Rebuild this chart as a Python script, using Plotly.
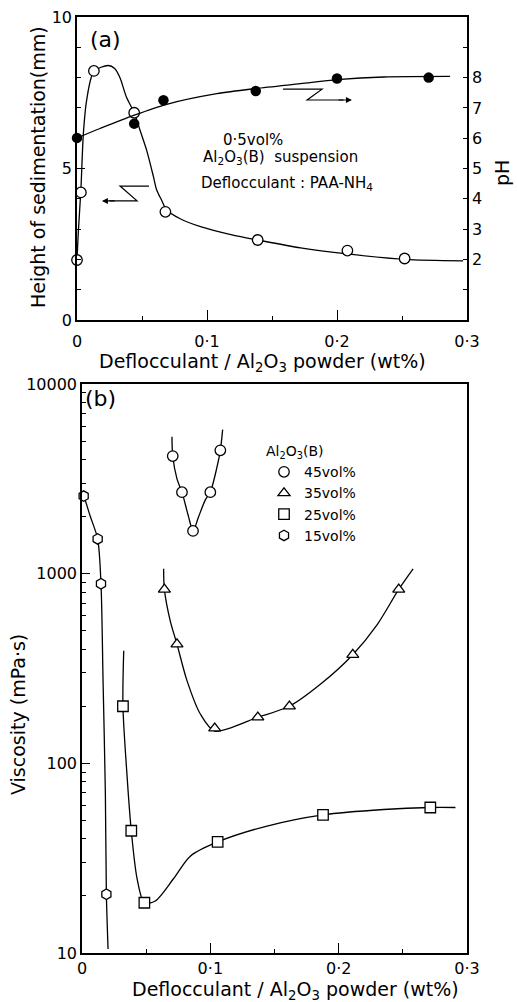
import plotly.graph_objects as go

# ---------------- data ----------------
# panel (a): sedimentation height (open circles) and pH (filled circles)
sed_x = [0.0, 0.003, 0.013, 0.044, 0.068, 0.139, 0.208, 0.252]
sed_y = [1.98, 4.21, 8.22, 6.84, 3.57, 2.64, 2.29, 2.03]
ph_x = [0.0, 0.044, 0.0665, 0.1375, 0.200, 0.2705]
ph_y = [6.01, 6.48, 7.25, 7.56, 7.97, 8.00]

# hand-drawn guide curves of panel (a)
sed_curve_x = [0.0, 0.001, 0.003, 0.0049, 0.0074, 0.013, 0.024, 0.029, 0.033, 0.038,
               0.044, 0.0485, 0.0536, 0.0588, 0.0613, 0.065, 0.069, 0.079, 0.095,
               0.120, 0.139, 0.172, 0.208, 0.252, 0.297]
sed_curve_y = [2.0, 2.9, 4.3, 6.15, 7.25, 8.2, 8.4, 8.3, 8.0, 7.36,
               6.84, 6.26, 5.6, 4.73, 4.29, 3.96, 3.63, 3.35, 3.08,
               2.8, 2.64, 2.38, 2.18, 2.0, 1.95]
ph_curve_x = [0.0, 0.0177, 0.044, 0.069, 0.1075, 0.1375, 0.172, 0.200, 0.236, 0.287]
ph_curve_y = [6.01, 6.32, 6.76, 7.12, 7.47, 7.64, 7.80, 7.93, 8.02, 8.04]

# panel (b): viscosity vs deflocculant
v45_x = [0.0707, 0.0779, 0.0865, 0.1000, 0.1078]
v45_y = [4170, 2690, 1680, 2690, 4470]
v35_x = [0.0642, 0.0740, 0.1034, 0.1370, 0.1616, 0.2110, 0.2468]
v35_y = [826, 425, 153, 175, 200, 374, 826]
v25_x = [0.0319, 0.0384, 0.0486, 0.1057, 0.1878, 0.2714]
v25_y = [200, 44.1, 18.4, 38.5, 53.5, 58.5]
v15_x = [0.0013, 0.0122, 0.0148, 0.0190]
v15_y = [2565, 1525, 885, 20.4]

# hand-drawn guide curves of panel (b)
c45_x = [0.0701, 0.0707, 0.0740, 0.0779, 0.0830, 0.0865, 0.0909, 0.0961, 0.1000, 0.1050, 0.1078, 0.1096]
c45_y = [5270, 4170, 3160, 2690, 2000, 1680, 2000, 2450, 2690, 3600, 4470, 5750]
c35_x = [0.0636, 0.0642, 0.0688, 0.0740, 0.0818, 0.0922, 0.1034, 0.1370, 0.1616, 0.1857, 0.2110, 0.2299, 0.2468, 0.2580]
c35_y = [1060, 826, 562, 425, 273, 182, 148, 175, 200, 261, 374, 537, 826, 1060]
c25_x = [0.0325, 0.0319, 0.0350, 0.0384, 0.0429, 0.0486, 0.0571, 0.0714, 0.0844, 0.1057, 0.1442, 0.1878, 0.2350, 0.2714, 0.2910]
c25_y = [392, 200, 88, 44.1, 24.7, 18.4, 18.8, 24.7, 32.4, 38.5, 46.7, 53.5, 57.1, 58.5, 58.5]
c15_x = [0.0, 0.0013, 0.0065, 0.0122, 0.0148, 0.0164, 0.0182, 0.0190, 0.0203]
c15_y = [2650, 2565, 2000, 1525, 885, 273, 70, 20.4, 10.5]

x_ticks = [0, 0.1, 0.2, 0.3]
x_ticktext = ["0", "0·1", "0·2", "0·3"]
v_ticks = [10, 100, 1000, 10000]
v_ticktext = ["10", "100", "1000", "10000"]
v_minor = [m * d for d in (10, 100, 1000) for m in range(2, 10)]
ph_ticks = [1, 2, 3, 4, 5, 6, 7, 8, 9]
ph_ticktext = ["", "2", "3", "4", "5", "6", "7", "8", ""]

FONT = "DejaVu Sans"
W, H = 517, 1002

def px_x(p):
    return p / W

def px_y(p):
    return 1 - p / H

fig = go.Figure()

line = dict(color="black", width=1.3)
open_marker = lambda sym: dict(symbol=sym, size=10.5, color="white", line=dict(color="black", width=1.3))

# panel (a)
fig.add_trace(go.Scatter(x=sed_curve_x, y=sed_curve_y, mode="lines", line=dict(shape="spline", smoothing=0.8, **line),
                         xaxis="x", yaxis="y", showlegend=False, hoverinfo="skip"))
fig.add_trace(go.Scatter(x=ph_curve_x, y=ph_curve_y, mode="lines", line=dict(shape="spline", smoothing=0.8, **line),
                         xaxis="x", yaxis="y2", showlegend=False, hoverinfo="skip"))
fig.add_trace(go.Scatter(x=sed_x, y=sed_y, mode="markers", marker=open_marker("circle"),
                         xaxis="x", yaxis="y", showlegend=False, cliponaxis=False))
fig.add_trace(go.Scatter(x=ph_x, y=ph_y, mode="markers",
                         marker=dict(symbol="circle", size=10.5, color="black"),
                         xaxis="x", yaxis="y2", showlegend=False, cliponaxis=False))

# panel (b)
for cx, cy in [(c45_x, c45_y), (c35_x, c35_y), (c25_x, c25_y), (c15_x, c15_y)]:
    fig.add_trace(go.Scatter(x=cx, y=cy, mode="lines", line=dict(shape="spline", smoothing=0.8, **line),
                             xaxis="x2", yaxis="y3", showlegend=False, hoverinfo="skip"))
for vx, vy, sym, name in [(v45_x, v45_y, "circle", "45vol%"),
                          (v35_x, v35_y, "triangle-up", "35vol%"),
                          (v25_x, v25_y, "square", "25vol%"),
                          (v15_x, v15_y, "hexagon", "15vol%")]:
    fig.add_trace(go.Scatter(x=vx, y=vy, mode="markers", marker=open_marker(sym), name=name,
                             xaxis="x2", yaxis="y3", cliponaxis=False))

axis_common = dict(showline=True, linecolor="black", linewidth=1.5, showgrid=False, zeroline=False,
                   ticks="inside", tickcolor="black", tickwidth=1.3, automargin=False,
                   tickfont=dict(family=FONT, size=16, color="black"))
minor_common = dict(ticks="inside", tickcolor="black", tickwidth=1.3, ticklen=4)

fig.update_layout(
    width=W, height=H, margin=dict(l=0, r=0, t=0, b=0, autoexpand=False),
    paper_bgcolor="white", plot_bgcolor="white",
    font=dict(family=FONT, color="black"),
    xaxis=dict(domain=[px_x(77), px_x(467)], range=[0, 0.3], anchor="y",
               tickvals=x_ticks, ticktext=x_ticktext, ticklen=10, mirror=True,
               ticklabelstandoff=6,
               minor=dict(dtick=0.05, **minor_common), **axis_common),
    yaxis=dict(domain=[px_y(320), px_y(17)], range=[0, 10], anchor="x",
               tickvals=[0, 5, 10], ticklen=8, mirror=True,
               minor=dict(dtick=1, **minor_common), **axis_common),
    yaxis2=dict(overlaying="y", side="right", anchor="x", range=[0, 10],
                tickvals=ph_ticks, ticktext=ph_ticktext, ticklen=4, **axis_common),
    xaxis2=dict(domain=[px_x(82), px_x(467)], range=[0, 0.3], anchor="y3",
                tickvals=x_ticks, ticktext=x_ticktext, ticklen=10, mirror=True,
                minor=dict(dtick=0.05, **minor_common), **axis_common),
    yaxis3=dict(domain=[px_y(953), px_y(384)], type="log", range=[1, 4], anchor="x2",
                tickvals=v_ticks, ticktext=v_ticktext, ticklen=8, mirror=True,
                minor=dict(tickvals=v_minor, **minor_common), **axis_common),
    legend=dict(x=px_x(264), y=px_y(438), xanchor="left", yanchor="top",
                title=dict(text="Al<sub>2</sub>O<sub>3</sub>(B)", font=dict(family=FONT, size=14, color="black")),
                font=dict(family=FONT, size=14, color="black"), bgcolor="rgba(0,0,0,0)",
                itemwidth=30, tracegroupgap=0),
)

def ann(text, x, y, size=19, angle=0, xanchor="center"):
    fig.add_annotation(text=text, x=px_x(x), y=px_y(y), xref="paper", yref="paper",
                       showarrow=False, textangle=angle, xanchor=xanchor, yanchor="middle",
                       font=dict(family=FONT, size=size, color="black"))

ann("(a)", 105, 40, size=22)
ann("(b)", 100, 398, size=22)
ann("Height of sedimentation(mm)", 38, 167, angle=-90)
ann("pH", 502, 173, angle=-90)
ann("Deflocculant / Al<sub>2</sub>O<sub>3</sub> powder (wt%)", 262, 362)
ann("Viscosity (mPa·s)", 18, 715, angle=-90)
ann("Deflocculant / Al<sub>2</sub>O<sub>3</sub> powder (wt%)", 295, 990)
ann("0·5vol%", 253, 140, size=15)
ann("Al<sub>2</sub>O<sub>3</sub>(B)  suspension", 280, 157, size=15)
ann("Deflocculant : PAA-NH<sub>4</sub>", 287, 183, size=15)

# Z-shaped pointers in panel (a)
fig.add_shape(type="path", xref="x", yref="y", path="M 0.0554 4.42 L 0.0331 4.42 L 0.0462 3.93 L 0.0250 3.93",
              line=dict(color="black", width=1.2))
fig.add_annotation(x=0.0192, y=3.93, ax=0.0300, ay=3.93, xref="x", yref="y", axref="x", ayref="y",
                   text="", showarrow=True, arrowhead=2, arrowsize=1, arrowwidth=1.2, arrowcolor="black")
fig.add_shape(type="path", xref="x", yref="y2", path="M 0.1585 7.62 L 0.1885 7.62 L 0.1770 7.26 L 0.2050 7.26",
              line=dict(color="black", width=1.2))
fig.add_annotation(x=0.2115, y=7.26, ax=0.2000, ay=7.26, xref="x", yref="y2", axref="x", ayref="y2",
                   text="", showarrow=True, arrowhead=2, arrowsize=1, arrowwidth=1.2, arrowcolor="black")

fig.write_html("out.html")
